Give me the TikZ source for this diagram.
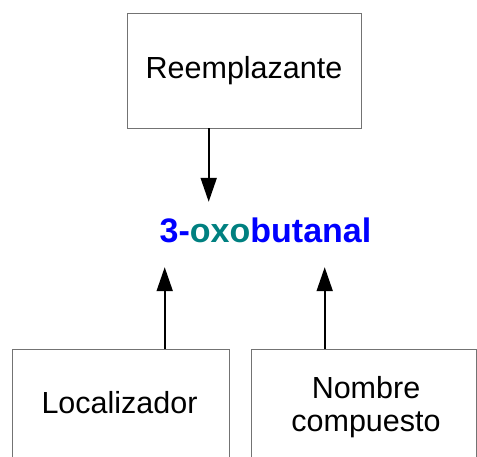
\documentclass[tikz,border=0pt]{standalone}
\usepackage{fontspec}
\setmainfont{Liberation Sans}
\usetikzlibrary{arrows.meta}
\definecolor{oxoblue}{RGB}{0,0,255}
\definecolor{oxoteal}{RGB}{0,128,128}

\begin{document}
\begin{tikzpicture}[x=1pt, y=-1pt,
  box/.style={draw=black!55, line width=0.8pt, inner sep=0pt},
  lbl/.style={font=\fontsize{30.5}{33}\selectfont, inner sep=0pt, align=center},
  arr/.style={line width=2pt, -{Triangle[length=24pt, width=16pt]}}]
\useasboundingbox (0,0) rectangle (477,457);
\clip (0,0) rectangle (477,457);
\node[box, lbl, minimum width=234pt, minimum height=115pt] (reemp) at (244,70.5) {Reemplazante};
\node[font=\bfseries\fontsize{34}{40}\selectfont, inner sep=0pt, text height=41pt, text depth=24pt] (nombre) at (265.5,234.5) {\textcolor{oxoblue}{3-}\textcolor{oxoteal}{oxo}\textcolor{oxoblue}{butanal}};
\node[box, minimum width=217pt, minimum height=130pt] (loc) at (120.5,414) {};
\node[box, minimum width=225pt, minimum height=130pt] (comp) at (363.5,414) {};
\node[lbl, anchor=base] (loctxt) at (119.5,413) {Localizador};
\node[lbl, anchor=base] (comptxt) at (366,431) {Nombre\\compuesto};
\draw[arr] (208.7,0 |- reemp.south) -- (208.7,0 |- nombre.north);
\draw[arr] (164.7,0 |- loc.north) -- (164.7,0 |- nombre.south);
\draw[arr] (324.7,0 |- comp.north) -- (324.7,0 |- nombre.south);
\end{tikzpicture}
\end{document}
